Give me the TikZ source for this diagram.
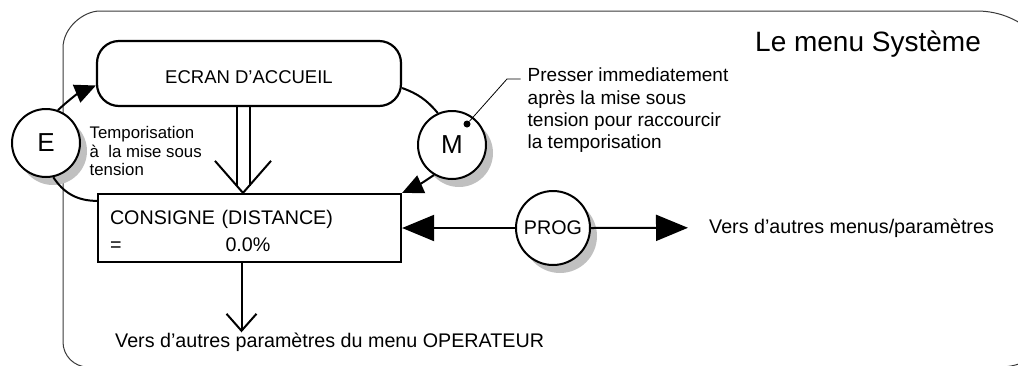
\documentclass[tikz,border=0pt]{standalone}
\usepackage{fontspec}
\setmainfont{Liberation Sans}
\usetikzlibrary{arrows.meta,calc,positioning,shadows}
\definecolor{traitC}{HTML}{000000}
\definecolor{cadreC}{HTML}{3A3A3A}
\definecolor{ombreC}{HTML}{C0C0C0}
\newcommand\corps{\fontsize{19.7}{27}\selectfont}
\newcommand\grande{\fontsize{26}{30}\selectfont}
\tikzset{
  cadre/.style={draw=cadreC, line width=1pt},
  ecranbox/.style={draw=traitC, line width=2.2pt, rounded corners=22pt, minimum width=304pt, minimum height=65pt,
              text height=19pt, text depth=0pt, font=\fontsize{18.5}{22}\selectfont},
  consbox/.style={draw=traitC, line width=2.2pt, minimum width=303pt, minimum height=68pt, text width=279pt,
              inner xsep=12pt, align=left, font=\corps},
  touche/.style={circle, draw=traitC, line width=2pt, fill=white, minimum size=68pt, inner sep=0pt, font=\grande,
              drop shadow={shadow xshift=7pt, shadow yshift=-8pt, fill=ombreC, opacity=1}},
  texte/.style={inner sep=0pt, align=left, font=\corps},
  pastille/.style={circle, fill=traitC, inner sep=0pt, minimum size=7pt},
  lien/.style={draw=traitC, line width=2pt},
  fleche/.style={lien, -{Triangle[length=21pt,width=19pt]}},
  grosse/.style={lien, -{Triangle[length=32pt,width=26pt]}},
  barbe/.style={lien, -{Straight Barb[length=17pt,width=30pt]}},
  renvoi/.style={draw=traitC, line width=0.8pt},
}

\begin{document}
\begin{tikzpicture}[x=1pt, y=-1pt]
\useasboundingbox (0,0) rectangle (1018,365);
% cadre
\draw[cadre] (88,367) .. controls (74.2,367) and (63,355.8) .. (63,342) -- (63,48)
  .. controls (63,27.6) and (83.4,11) .. (100,11) -- (977,11)
  .. controls (1022.8,11) and (1060,48.2) .. (1060,94) -- (1060,307)
  .. controls (1060,340.1) and (1033.1,367) .. (1000,367) -- cycle;
\node[texte, anchor=base west, font=\fontsize{28}{32}\selectfont] (titre) at (755,51) {Le menu Système};
% ecrans
\node[ecranbox] (ecran) at (249,73.5) {ECRAN D’ACCUEIL};
\node[consbox] (consigne) at (249.5,228) {\rule{0pt}{19.4pt}CONSIGNE (DISTANCE)\\=\hspace{104pt}0.0\%};
% touches
\node[touche] (E) at (46,143) {E};
\node[touche] (M) at (452,145) {M};
\node[touche, minimum size=74pt, font=\corps] (PROG) at (553,228) {PROG};
\node[pastille] (pt) at ($(M.center)+(15,-21)$) {};
% textes
\node[texte, anchor=north west, font=\fontsize{16.8}{18.5}\selectfont] (tempo) at (89.5,126.5)
  {Temporisation\\à\ \ la mise sous\\tension};
\node[texte, anchor=north west, font=\fontsize{19}{22.3}\selectfont] (note) at (527.5,68)
  {Presser immediatement\\après la mise sous\\tension pour raccourcir\\la temporisation};
\node[texte, anchor=base west] (menus) at (709,233) {Vers d’autres menus/paramètres};
\node[texte, anchor=base west] (operateur) at (115,347) {Vers d’autres paramètres du menu OPERATEUR};
% liaisons
\draw[fleche] (E.70) to[bend left=10] ($(ecran.west)+(0,12)$);
\draw[lien] (E.-78) to[bend right=28] ($(consigne.north west)+(0,8)$);
\draw[lien] ($(ecran.east)+(0,14.5)$) to[bend left=15] (M.114);
\draw[fleche] (M.-121) to[bend left=5] (consigne.north east);
\draw[grosse] (PROG.west) -- (consigne.east);
\draw[grosse] (PROG.east) -- ([xshift=-21pt]menus.west);
\coordinate (coude) at (507,79);
\draw[renvoi] (pt) -- (coude) -- ([xshift=-7pt]coude -| note.west);
% double fleche
\coordinate (pointe) at ([xshift=-6.5pt]consigne.north);
\draw[lien] ($(ecran.south -| pointe)+(-6.5,0)$) -- ($(pointe)+(-6.5,-7.4)$);
\draw[lien] ($(ecran.south -| pointe)+(6.5,0)$) -- ($(pointe)+(6.5,-7.4)$);
\draw[lien, line join=miter] ($(pointe)+(-28,-32)$) -- (pointe) -- ($(pointe)+(28,-32)$);
\draw[barbe] ([xshift=-8pt]consigne.south) -- ([xshift=-8pt]consigne.south |- operateur.north);
\end{tikzpicture}
\end{document}
